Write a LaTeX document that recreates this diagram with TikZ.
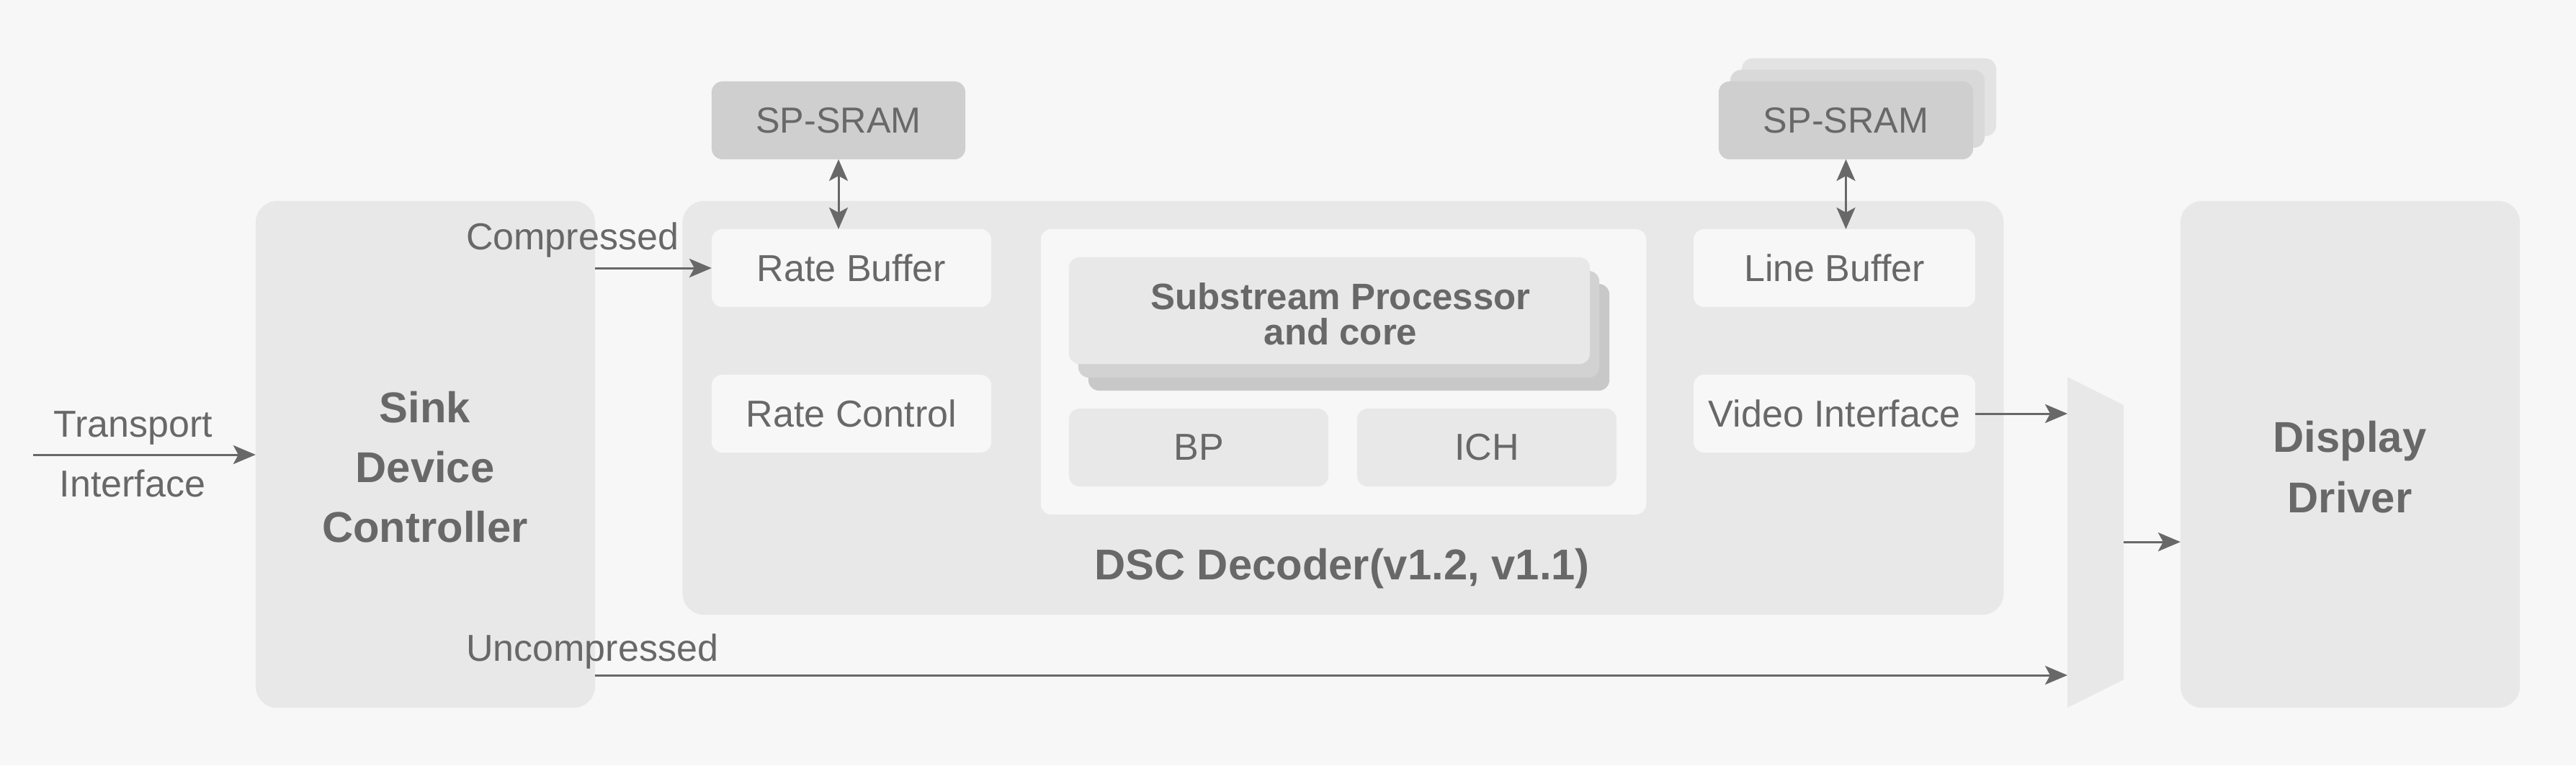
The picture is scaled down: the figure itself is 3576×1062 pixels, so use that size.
\documentclass[tikz,border=0pt]{standalone}
\usepackage{fontspec}
\setmainfont{Liberation Sans}
\usetikzlibrary{arrows.meta}
\definecolor{bgc}{HTML}{F7F7F7}
\definecolor{boxc}{HTML}{E8E8E8}
\definecolor{innc}{HTML}{F7F7F7}
\definecolor{sramc}{HTML}{CFCFCF}
\definecolor{sramb}{HTML}{D9D9D9}
\definecolor{sramcc}{HTML}{E3E3E3}
\definecolor{subb}{HTML}{D2D2D2}
\definecolor{subc}{HTML}{C8C8C8}
\definecolor{txtc}{HTML}{686868}
\newcommand\rbox[7][]{%
  \pgfmathsetmacro\myCX{(#3+#5)/2}\pgfmathsetmacro\myCY{(#4+#6)/2}%
  \pgfmathsetmacro\myW{(#5-#3)/100}\pgfmathsetmacro\myH{(#6-#4)/100}%
  \node[#1, minimum width=\myW cm, minimum height=\myH cm] (#2) at (\myCX,\myCY) {#7};}
\begin{document}
\begin{tikzpicture}[x=0.01cm,y=-0.01cm,
  every node/.style={inner sep=0pt, outer sep=0pt, text=txtc},
  big/.style={fill=boxc, rounded corners=0.3cm},
  small/.style={rounded corners=0.15cm},
  inner/.style={small, fill=innc},
  lbl/.style={font=\fontsize{14.8}{17}\selectfont},
  blbl/.style={font=\fontsize{17}{23.7}\selectfont\bfseries, align=center},
  conn/.style={draw=txtc, line width=0.85pt, -{Stealth[length=3.1mm,width=2.6mm,inset=0.7mm]}},
  bconn/.style={draw=txtc, line width=0.85pt, {Stealth[length=3.0mm,width=2.6mm,inset=0.7mm]}-{Stealth[length=3.0mm,width=2.6mm,inset=0.7mm]}}
]
\fill[bgc] (0,0) rectangle (3576,1062);
\useasboundingbox (0,0) rectangle (3576,1062);

% main blocks
\rbox[big]{sink}{355}{279}{826}{982}{}
\rbox[big]{dsc}{948}{279}{2781}{853}{}
\rbox[big]{disp}{3027}{279}{3498}{982}{}
\node[blbl, anchor=center] (sinktxt) at (590,648) {Sink\\Device\\Controller};
\node[blbl, anchor=center] (disptxt) at (3262,648) {Display\\Driver};
\node[font=\fontsize{17}{20}\selectfont\bfseries, anchor=base] (dsctxt) at (1863,804) {DSC Decoder(v1.2, v1.1)};

% SRAMs
\rbox[small, fill=sramc, lbl, font=\fontsize{14.3}{17}\selectfont]{sramA}{988}{113}{1340}{221}{SP-SRAM}
\rbox[small, fill=sramcc]{sramB3}{2418}{81}{2771}{189}{}
\rbox[small, fill=sramb]{sramB2}{2402}{97}{2755}{205}{}
\rbox[small, fill=sramc, font=\fontsize{14.3}{17}\selectfont]{sramB}{2386}{113}{2739}{221}{SP-SRAM}

% inner boxes
\rbox[inner, lbl]{ratebuf}{988}{318}{1376}{426}{Rate Buffer}
\rbox[inner, lbl]{ratectl}{988}{520}{1376}{628}{Rate Control}
\rbox[inner]{panel}{1445}{318}{2285}{714}{}
\rbox[small, fill=subc]{sub3}{1511}{394}{2234}{542}{}
\rbox[small, fill=subb]{sub2}{1497}{376}{2220}{524}{}
\rbox[small, fill=boxc]{sub}{1484}{357}{2207}{505}{}
\node[font=\fontsize{14.5}{13.9}\selectfont\bfseries, align=center] (subtxt) at (1861,436) {Substream Processor\\and core};
\rbox[small, fill=boxc, lbl]{bp}{1484}{567}{1844}{675}{BP}
\rbox[small, fill=boxc, lbl]{ich}{1884}{567}{2244}{675}{ICH}
\rbox[inner, lbl]{linebuf}{2351}{318}{2742}{426}{Line Buffer}
\rbox[inner, lbl]{video}{2351}{520}{2742}{628}{Video Interface}

% mux
\coordinate (muxTL) at (2870,523);
\coordinate (muxTR) at (2948,562);
\coordinate (muxBR) at (2948,943);
\coordinate (muxBL) at (2870,982);
\fill[boxc] (muxTL) -- (muxTR) -- (muxBR) -- (muxBL) -- cycle;
\coordinate (muxin1) at (2870,574);
\coordinate (muxin2) at (2870,937);
\coordinate (muxout) at (2948,752);

% labels
\coordinate (tstart) at (46,631);
\node[lbl, anchor=base] (ttr) at (185,606) {Transport};
\node[lbl, anchor=base] (tif) at (184,689) {Interface};
\node[lbl, anchor=base west] (comp) at (647,346) {Compressed};
\node[lbl, anchor=base west] (ucomp) at (647,917) {Uncompressed};

% connectors
\draw[conn] (tstart) -- (tstart -| sink.west);
\draw[conn] (sink.east |- ratebuf.west) -- (ratebuf.west);
\draw[conn] (sink.east |- muxin2) -- (muxin2);
\draw[conn] (video.east) -- (muxin1);
\draw[conn] (muxout) -- (muxout -| disp.west);
\draw[bconn] (sramA.south) -- (sramA.south |- ratebuf.north);
\draw[bconn] (sramB.south) -- (sramB.south |- linebuf.north);
\end{tikzpicture}
\end{document}
